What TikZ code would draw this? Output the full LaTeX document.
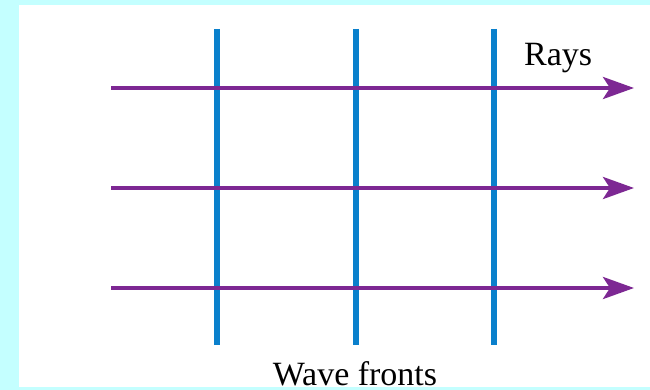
\documentclass[tikz,border=0pt]{standalone}
\usepackage{fontspec}
\setmainfont{Liberation Serif}
\usetikzlibrary{arrows.meta}
\definecolor{bgcyan}{HTML}{C4FFFF}
\definecolor{frontblue}{HTML}{0A80CC}
\definecolor{raypurple}{HTML}{7D2893}
\tikzset{
  front/.style={draw=frontblue, line width=6pt},
  ray/.style={draw=raypurple, line width=4pt, -{Stealth[length=31pt,width=22pt,inset=7pt]}},
  lbl/.style={inner sep=0pt, font=\fontsize{34}{40}\selectfont}
}
\begin{document}
\begin{tikzpicture}[x=1pt,y=-1pt]
\useasboundingbox (0,0) rectangle (650,390);
\fill[bgcyan] (0,0) rectangle (650,390);
\fill[white] (19,5) rectangle (650,387);
% wave fronts
\foreach \i/\x in {1/217,2/356,3/494}{
  \coordinate (ft\i) at (\x,29);
  \coordinate (fb\i) at (\x,345);
  \draw[front] (ft\i) -- (fb\i);
}
% rays
\foreach \j/\y in {1/88,2/188,3/288}{
  \coordinate (rs\j) at (111,\y);
  \coordinate (re\j) at (634,\y);
  \draw[ray] (rs\j) -- (re\j);
}
\node[lbl, anchor=base west] (rays) at (524,66) {Rays};
\node[lbl, anchor=base] (fronts) at (355,385) {Wave fronts};
\end{tikzpicture}
\end{document}
